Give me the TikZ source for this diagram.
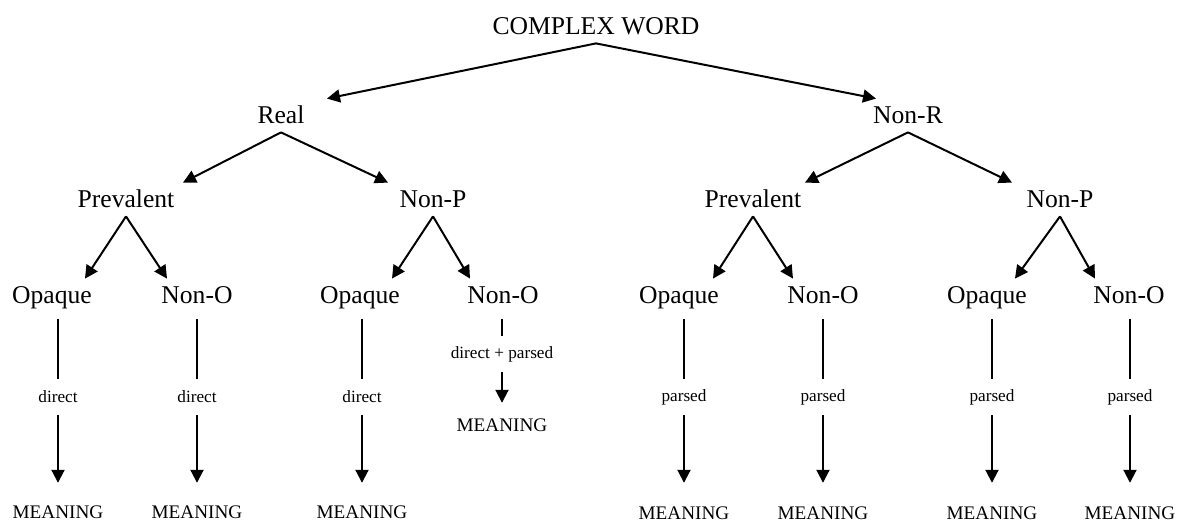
\documentclass[tikz,border=0pt]{standalone}
\usepackage{fontspec}
\setmainfont{Liberation Serif}
\usepackage{tikz}
\usetikzlibrary{arrows.meta,positioning,calc}

\begin{document}
\begin{tikzpicture}[x=0.5pt, y=-0.5pt,
    word/.style={font=\fontsize{12.8}{15}\selectfont, anchor=base,
        text height=8.5pt, text depth=0pt, inner xsep=0pt, inner ysep=4pt},
    route/.style={font=\fontsize{8.6}{10}\selectfont, inner sep=0pt, minimum height=18pt},
    meaning/.style={font=\fontsize{9.6}{11}\selectfont, anchor=base,
        text height=6.4pt, text depth=0pt, inner sep=0pt},
    arr/.style={-{Triangle[length=6.5pt,width=6.5pt]}, line width=1pt},
    stem/.style={line width=1pt, shorten <=3.5pt}]
    \useasboundingbox (0,0) rectangle (1180,523);

    % 顶层
    \node[word] (cw) at (596,35) {COMPLEX WORD};

    % 左子树：Real
    \begin{scope}
        \node[word] (real) at (281,124) {Real};
        \node[word] (lprev) at (126,208) {Prevalent};
        \node[word] (lnonp) at (433,208) {Non-P};
        \node[word] (lop1) at (52,304) {Opaque};
        \node[word] (lno1) at (197,304) {Non-O};
        \node[word] (lop2) at (360,304) {Opaque};
        \node[word] (lno2) at (503,304) {Non-O};
        \node[route] (lh1) at (58,397) {direct};
        \node[route] (lh2) at (197,397) {direct};
        \node[route] (lh3) at (362,397) {direct};
        \node[route] (lh4) at (502,354) {direct + parsed};
        \node[meaning] (lm1) at (58,519) {MEANING};
        \node[meaning] (lm2) at (197,519) {MEANING};
        \node[meaning] (lm3) at (362,519) {MEANING};
        \node[meaning] (lm4) at (502,432) {MEANING};
        \draw[arr] (cw.south) -- ([xshift=23pt]real.north);
        \draw[arr] (real.south) -- ([xshift=28.5pt]lprev.north);
        \draw[arr] (real.south) -- ([xshift=-22.5pt]lnonp.north);
        \draw[arr] (lprev.south) -- ([xshift=16.5pt]lop1.north);
        \draw[arr] (lprev.south) -- ([xshift=-15pt]lno1.north);
        \draw[arr] (lnonp.south) -- ([xshift=16pt]lop2.north);
        \draw[arr] (lnonp.south) -- ([xshift=-16.5pt]lno2.north);
        \draw[stem] (lop1.south -| lh1) -- (lh1);
        \draw[stem] (lno1.south -| lh2) -- (lh2);
        \draw[stem] (lop2.south -| lh3) -- (lh3);
        \draw[stem] (lno2.south -| lh4) -- (lh4);
        \draw[arr, shorten >=11.5pt] (lh1) -- (lm1);
        \draw[arr, shorten >=11.5pt] (lh2) -- (lm2);
        \draw[arr, shorten >=11.5pt] (lh3) -- (lm3);
        \draw[arr, shorten >=8pt] (lh4) -- (lm4);
    \end{scope}

    % 右子树：Non-R
    \begin{scope}[xshift=313.5pt]
        \node[word] (nonr) at (281,124) {Non-R};
        \node[word] (rprev) at (126,208) {Prevalent};
        \node[word] (rnonp) at (433,208) {Non-P};
        \node[word] (rop1) at (52,304) {Opaque};
        \node[word] (rno1) at (196,304) {Non-O};
        \node[word] (rop2) at (360,304) {Opaque};
        \node[word] (rno2) at (502,304) {Non-O};
        \node[route] (rh1) at (57,397) {parsed};
        \node[route] (rh2) at (196,397) {parsed};
        \node[route] (rh3) at (365,397) {parsed};
        \node[route] (rh4) at (503,397) {parsed};
        \node[meaning] (rm1) at (57,520) {MEANING};
        \node[meaning] (rm2) at (196,520) {MEANING};
        \node[meaning] (rm3) at (365,520) {MEANING};
        \node[meaning] (rm4) at (503,520) {MEANING};
        \draw[arr] (cw.south) -- ([xshift=-16pt]nonr.north);
        \draw[arr] (nonr.south) -- ([xshift=26pt]rprev.north);
        \draw[arr] (nonr.south) -- ([xshift=-24pt]rnonp.north);
        \draw[arr] (rprev.south) -- ([xshift=17pt]rop1.north);
        \draw[arr] (rprev.south) -- ([xshift=-15pt]rno1.north);
        \draw[arr] (rnonp.south) -- ([xshift=14pt]rop2.north);
        \draw[arr] (rnonp.south) -- ([xshift=-17pt]rno2.north);
        \draw[stem] (rop1.south -| rh1) -- (rh1);
        \draw[stem] (rno1.south -| rh2) -- (rh2);
        \draw[stem] (rop2.south -| rh3) -- (rh3);
        \draw[stem] (rno2.south -| rh4) -- (rh4);
        \draw[arr, shorten >=12pt] (rh1) -- (rm1);
        \draw[arr, shorten >=12pt] (rh2) -- (rm2);
        \draw[arr, shorten >=12pt] (rh3) -- (rm3);
        \draw[arr, shorten >=12pt] (rh4) -- (rm4);
    \end{scope}
\end{tikzpicture}
\end{document}
